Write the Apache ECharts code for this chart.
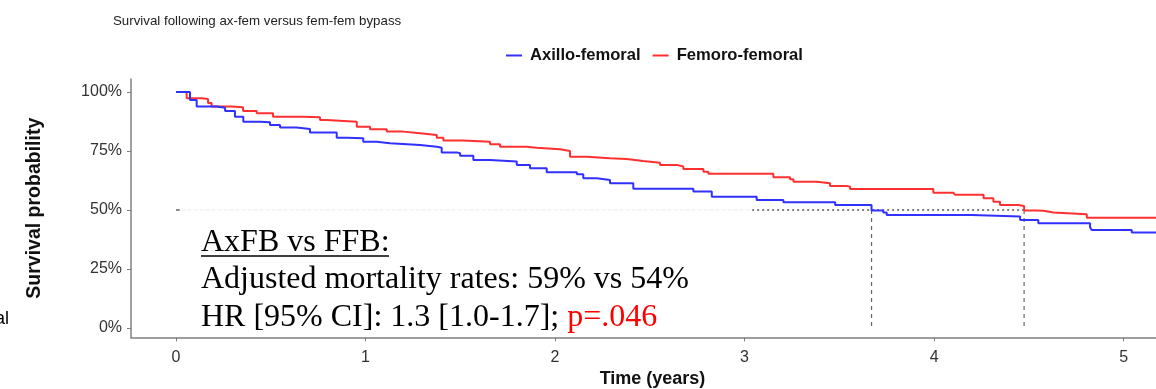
<!DOCTYPE html>
<html>
<head>
<meta charset="utf-8">
<script src="https://cdn.jsdelivr.net/npm/echarts@6/dist/echarts.min.js"></script>
<style>
html, body { margin: 0; padding: 0; background: #fff; }
#main { width: 1156px; height: 389px; }
</style>
</head>
<body>
<div id="main"></div>
<script>
// survival curves, [years, percent]
var axilloFemoral = [
	[0, 100], [0.074, 96.6], [0.109, 93.8], [0.215, 93.3], [0.259, 91.9], [0.311, 89.5],
	[0.355, 87.4], [0.443, 87.2], [0.496, 86.0], [0.549, 84.9], [0.637, 84.3], [0.707, 82.8],
	[0.848, 80.6], [0.901, 80.4], [0.988, 78.9], [1.059, 78.3], [1.129, 77.5], [1.288, 76.8],
	[1.376, 76.4], [1.402, 74.4], [1.481, 74.0], [1.499, 73.0], [1.569, 71.2], [1.657, 70.5],
	[1.798, 69.1], [1.868, 67.7], [1.956, 66.0], [2.115, 65.1], [2.149, 63.4], [2.220, 62.7],
	[2.290, 61.3], [2.413, 59.0], [2.730, 57.8], [2.827, 55.6], [3.064, 54.2], [3.205, 53.3],
	[3.478, 52.1], [3.670, 49.8], [3.732, 48.9], [3.750, 47.9], [4.199, 47.2], [4.454, 45.8],
	[4.550, 44.4], [4.823, 42.7], [4.832, 41.5], [5.043, 40.4], [5.171, 40.4]
];
var femoroFemoral = [
	[0, 100], [0.056, 97.3], [0.136, 97.0], [0.169, 95.3], [0.188, 93.8], [0.294, 93.5],
	[0.354, 91.9], [0.426, 91.0], [0.512, 89.5], [0.670, 89.3], [0.760, 88.1], [0.795, 87.4],
	[0.954, 85.3], [1.024, 84.2], [1.112, 83.2], [1.198, 82.5], [1.288, 81.8], [1.376, 80.6],
	[1.411, 79.4], [1.515, 78.9], [1.657, 77.8], [1.710, 76.8], [1.851, 76.4], [1.903, 75.7],
	[2.026, 75.0], [2.079, 72.6], [2.167, 71.9], [2.290, 71.6], [2.378, 70.8], [2.464, 70.0],
	[2.554, 69.1], [2.642, 68.4], [2.677, 67.4], [2.783, 66.2], [2.809, 65.3], [3.064, 65.3],
	[3.152, 63.9], [3.240, 63.0], [3.258, 62.0], [3.381, 61.3], [3.451, 60.2], [3.539, 59.9],
	[3.557, 58.9], [3.996, 57.3], [4.102, 56.8], [4.111, 56.4], [4.261, 55.0], [4.313, 53.5],
	[4.348, 52.1], [4.445, 51.7], [4.475, 49.8], [4.542, 49.7], [4.577, 48.9], [4.630, 48.2],
	[4.806, 46.7], [5.171, 46.7]
];
var xTicks = [0, 1, 2, 3, 4, 5];
var yTicks = [0, 25, 50, 75, 100];
var medianAx = 3.67;
var medianFem = 4.475;
var medianLineStart = 3.04;

var myChart = echarts.init(document.getElementById('main'));
var grey = '#7f7f7f';
var lbl = '#333';

option = {
	animation: false,
	backgroundColor: '#fff',
	title: {
		text: 'Survival following ax-fem versus fem-fem bypass',
		left: 108, top: 10,
		textStyle: { fontFamily: 'Liberation Sans', fontSize: 13.3, fontWeight: 'normal', color: '#222' }
	},
	legend: {
		left: 501, top: 42,
		itemWidth: 16, itemHeight: 2, itemGap: 12, icon: 'rect',
		textStyle: { fontFamily: 'Liberation Sans', fontSize: 16.6, fontWeight: 'bold', color: '#111', padding: [0, 0, 0, 3] },
		data: ['Axillo-femoral', 'Femoro-femoral']
	},
	grid: { left: 131, right: 0, top: 79, bottom: 51.6, containLabel: false, outerBoundsMode: 'none' },
	xAxis: {
		type: 'value', min: -0.2375, max: 5.171,
		name: 'Time (years)', nameLocation: 'middle', nameGap: 32,
		nameTextStyle: { fontFamily: 'Liberation Sans', fontSize: 18, fontWeight: 'bold', color: '#111', padding: [0, 0, 0, 18] },
		splitLine: { show: false },
		axisLine: { show: true, onZero: false, lineStyle: { color: grey, width: 1.5 } },
		axisTick: { show: true, length: 4, lineStyle: { color: grey }, customValues: xTicks },
		axisLabel: { customValues: xTicks, margin: 12, fontFamily: 'Liberation Sans', fontSize: 16, color: lbl }
	},
	yAxis: {
		type: 'value', min: -4, max: 105.5,
		name: 'Survival probability', nameLocation: 'middle', nameGap: 86, nameRotate: 90,
		nameTextStyle: { fontFamily: 'Liberation Sans', fontSize: 19.5, fontWeight: 'bold', color: '#111' },
		splitLine: { show: false },
		axisLine: { show: true, onZero: false, lineStyle: { color: grey, width: 1.5 } },
		axisTick: { show: true, length: 4, lineStyle: { color: grey }, customValues: yTicks },
		axisLabel: {
			customValues: yTicks, margin: 9, fontFamily: 'Liberation Sans', fontSize: 16, color: lbl,
			formatter: function (v) { return v + '%'; }
		}
	},
	series: [
		{
			name: 'faint', type: 'line', silent: true, symbol: 'none',
			data: [[0.03, 50], [medianLineStart, 50]],
			lineStyle: { color: '#ececec', width: 1, type: 'dashed' }
		},
		{
			name: 'tick0', type: 'line', silent: true, symbol: 'none',
			data: [[0, 50], [0.02, 50]],
			lineStyle: { color: '#666', width: 1.5 }
		},
		{
			name: 'medH', type: 'line', silent: true, symbol: 'none',
			data: [[medianLineStart, 50], [medianFem, 50]],
			lineStyle: { color: '#555', width: 1.5, type: [2, 3] }
		},
		{
			name: 'medAx', type: 'line', silent: true, symbol: 'none',
			data: [[medianAx, 50], [medianAx, 0]],
			lineStyle: { color: '#666', width: 1.2, type: [4, 4] }
		},
		{
			name: 'medFem', type: 'line', silent: true, symbol: 'none',
			data: [[medianFem, 50], [medianFem, 0]],
			lineStyle: { color: '#666', width: 1.2, type: [4, 4] }
		},
		{
			name: 'Femoro-femoral', type: 'line', step: 'end', symbol: 'none',
			data: femoroFemoral, color: '#ff3030',
			lineStyle: { color: '#ff3030', width: 2 }
		},
		{
			name: 'Axillo-femoral', type: 'line', step: 'end', symbol: 'none',
			data: axilloFemoral, color: '#3030ff',
			lineStyle: { color: '#3030ff', width: 2 }
		}
	],
	graphic: [
		{
			type: 'text', left: 201, top: 227,
			style: { text: 'AxFB vs FFB:', font: '32px "Liberation Serif"', fill: '#000' }
		},
		{
			type: 'line', shape: { x1: 201, y1: 256, x2: 389, y2: 256 },
			style: { stroke: '#000', lineWidth: 1.5 }
		},
		{
			type: 'text', left: 201, top: 264,
			style: { text: 'Adjusted mortality rates: 59% vs 54%', font: '32px "Liberation Serif"', fill: '#000' }
		},
		{
			type: 'text', left: 201, top: 302,
			style: {
				text: '{a|HR [95% CI]: 1.3 [1.0-1.7]; }{b|p=.046}',
				rich: {
					a: { font: '32px "Liberation Serif"', fill: '#000' },
					b: { font: '32px "Liberation Serif"', fill: '#ff0000' }
				}
			}
		},
		{
			type: 'text', x: 9, y: 328,
			style: { text: 'al', font: '18px "Liberation Sans"', fill: '#000', align: 'right', verticalAlign: 'bottom' }
		}
	]
};
myChart.setOption(option);
</script>
</body>
</html>
